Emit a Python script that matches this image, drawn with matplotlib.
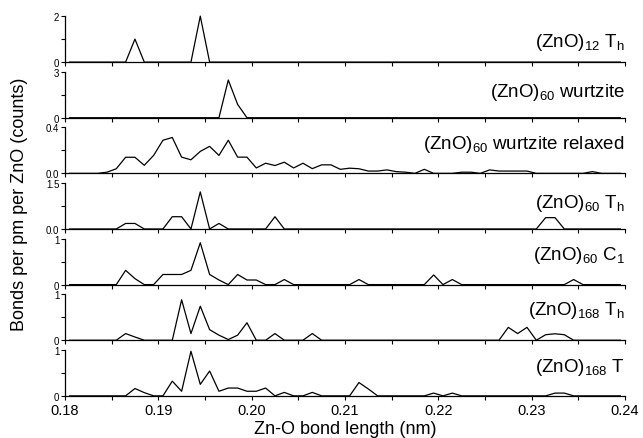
import numpy as np
import matplotlib.pyplot as plt
from matplotlib.ticker import MultipleLocator

plt.rcParams['font.family'] = ['Liberation Sans', 'DejaVu Sans']
plt.rcParams['mathtext.default'] = 'regular'

# 1 pm histogram bins, centres in nm
bins = np.round(np.arange(0.1805, 0.2400, 0.001), 4)

# bond length (nm) -> bonds per pm per ZnO, all other bins are zero
zno12_th = {0.1875: 1.0, 0.1945: 2.0}
zno60_wz = {0.1975: 2.46, 0.1985: 0.87}
zno60_wz_relaxed = {
    0.1845: 0.01, 0.1855: 0.04, 0.1865: 0.14, 0.1875: 0.14, 0.1885: 0.07,
    0.1895: 0.156, 0.1905: 0.288, 0.1915: 0.312, 0.1925: 0.141, 0.1935: 0.118,
    0.1945: 0.191, 0.1955: 0.235, 0.1965: 0.156, 0.1975: 0.288, 0.1985: 0.141,
    0.1995: 0.141, 0.2005: 0.047, 0.2015: 0.088, 0.2025: 0.068, 0.2035: 0.097,
    0.2045: 0.047, 0.2055: 0.088, 0.2065: 0.041, 0.2075: 0.074, 0.2085: 0.074,
    0.2095: 0.035, 0.2105: 0.045, 0.2115: 0.04, 0.2125: 0.02, 0.2135: 0.02,
    0.2145: 0.03, 0.2155: 0.015, 0.2165: 0.01, 0.2185: 0.035, 0.2225: 0.01,
    0.2235: 0.01, 0.2255: 0.03, 0.2265: 0.02, 0.2275: 0.02, 0.2285: 0.02,
    0.2295: 0.02, 0.2365: 0.015,
}
zno60_th = {0.1865: 0.18, 0.1875: 0.18, 0.1915: 0.4, 0.1925: 0.4, 0.1945: 1.21,
            0.1965: 0.18, 0.2025: 0.4, 0.2315: 0.37, 0.2325: 0.37}
zno60_c1 = {0.1865: 0.31, 0.1875: 0.13, 0.1905: 0.22, 0.1915: 0.22, 0.1925: 0.22,
            0.1935: 0.31, 0.1945: 0.91, 0.1955: 0.22, 0.1965: 0.1, 0.1985: 0.22,
            0.1995: 0.1, 0.2005: 0.1, 0.2035: 0.11, 0.2115: 0.11, 0.2195: 0.21,
            0.2215: 0.11, 0.2345: 0.11}
zno168_th = {0.1865: 0.145, 0.1875: 0.07, 0.1925: 0.88, 0.1935: 0.145, 0.1945: 0.74,
             0.1955: 0.23, 0.1965: 0.11, 0.1975: 0.015, 0.1985: 0.11, 0.1995: 0.38,
             0.2025: 0.145, 0.2065: 0.145, 0.2275: 0.28, 0.2285: 0.145, 0.2295: 0.28,
             0.2315: 0.12, 0.2325: 0.14, 0.2335: 0.12}
zno168_t = {0.1875: 0.16, 0.1885: 0.07, 0.1915: 0.32, 0.1925: 0.1, 0.1935: 0.97,
            0.1945: 0.25, 0.1955: 0.54, 0.1965: 0.1, 0.1975: 0.17, 0.1985: 0.17,
            0.1995: 0.1, 0.2005: 0.1, 0.2015: 0.17, 0.2035: 0.075, 0.2065: 0.075,
            0.2115: 0.29, 0.2125: 0.15, 0.2195: 0.06, 0.2215: 0.06, 0.2325: 0.06,
            0.2335: 0.06}

labels = ['(ZnO)$_{12}$ T$_h$', '(ZnO)$_{60}$ wurtzite', '(ZnO)$_{60}$ wurtzite relaxed',
          '(ZnO)$_{60}$ T$_h$', '(ZnO)$_{60}$ C$_1$', '(ZnO)$_{168}$ T$_h$', '(ZnO)$_{168}$ T']
series = [zno12_th, zno60_wz, zno60_wz_relaxed, zno60_th, zno60_c1, zno168_th, zno168_t]
ymax = [2, 3, 0.4, 1.5, 1, 1, 1]
ytick_labels = [('0', '2'), ('0', '3'), ('0.0', '0.4'), ('0.0', '1.5'),
                ('0', '1'), ('0', '1'), ('0', '1')]
label_y = [0.35, 0.48, 0.56, 0.47, 0.55, 0.57, 0.55]


def histo(peaks):
    y = np.zeros(len(bins))
    for x, v in peaks.items():
        y[int(round((x - 0.1805) / 0.001))] = v
    return y


fig, axes = plt.subplots(7, 1, figsize=(6.43, 4.39), dpi=100, sharex=True)
fig.subplots_adjust(left=0.101, right=0.972, top=0.961, bottom=0.096, hspace=0.21)

for ax, d, top, tl, lab, ly in zip(axes, series, ymax, ytick_labels, labels, label_y):
    ax.plot(bins, histo(d), color='black', lw=0.9, clip_on=False)
    ax.set_xlim(0.18, 0.24)
    ax.set_ylim(0, top)
    for s in ('top', 'right'):
        ax.spines[s].set_visible(False)
    for s in ('left', 'bottom'):
        ax.spines[s].set_linewidth(0.9)
    ax.set_yticks([0, top])
    ax.set_yticklabels(tl)
    ax.set_yticks([top / 2], minor=True)
    ax.xaxis.set_major_locator(MultipleLocator(0.01))
    ax.xaxis.set_minor_locator(MultipleLocator(0.005))
    ax.tick_params(which='both', direction='out', length=3, width=0.8,
                   labelsize=7, pad=1)
    ax.text(1.0, ly, lab, transform=ax.transAxes, ha='right', va='baseline',
            fontsize=13.5)

axes[-1].tick_params(axis='x', labelsize=10.5, pad=2)
axes[-1].xaxis.set_major_formatter(lambda v, p: f'{v:.2f}')
axes[-1].set_xlabel('Zn-O bond length (nm)', fontsize=13, labelpad=2)
fig.text(0.030, 0.534, 'Bonds per pm per ZnO (counts)', rotation=90,
         ha='center', va='center', fontsize=13)

plt.savefig('out.png', dpi=100)
plt.close()
